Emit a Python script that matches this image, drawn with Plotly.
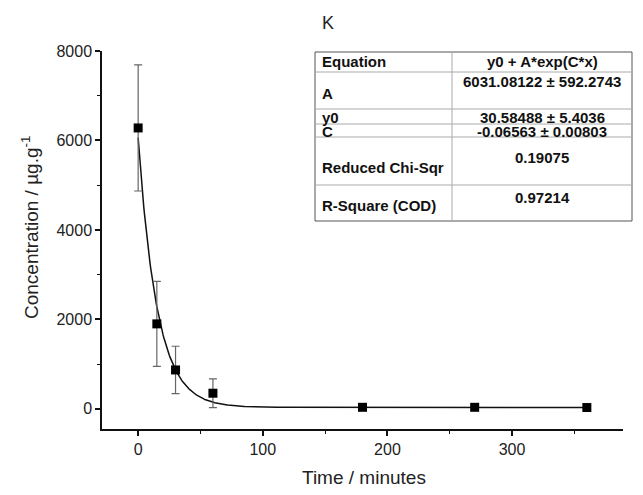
import numpy as np
import plotly.graph_objects as go

# Data
time_min = [0, 15, 30, 60, 180, 270, 360]
conc = [6280, 1900, 870, 350, 35, 35, 30]
conc_err = [1410, 950, 530, 320, 0, 0, 0]

# Fit parameters (from the table)
fit_A = 6031.08122
fit_y0 = 30.58488
fit_C = -0.06563

table_labels = ["Equation", "A", "y0", "C", "Reduced Chi-Sqr", "R-Square (COD)"]
table_values = ["y0 + A*exp(C*x)", "6031.08122 ± 592.2743", "30.58488 ± 5.4036",
                "-0.06563 ± 0.00803", "0.19075", "0.97214"]

fit_x = np.linspace(0, 360, 721)
fit_y = fit_y0 + fit_A * np.exp(fit_C * fit_x)

fig = go.Figure()
fig.add_trace(go.Scatter(x=fit_x, y=fit_y, mode="lines",
                         line=dict(color="#111111", width=1.5), showlegend=False,
                         hoverinfo="skip"))
fig.add_trace(go.Scatter(x=time_min, y=conc, mode="markers",
                         marker=dict(symbol="square", size=9, color="#000000"),
                         error_y=dict(type="data", array=conc_err, visible=True,
                                      color="#666666", thickness=1.2, width=4),
                         showlegend=False))

W, H = 643, 495
L, R, T, B = 102, 20, 51, 66
pw, ph = W - L - R, H - T - B

def px(x):
    return (x - L) / pw

def py(y):
    return (H - B - y) / ph

font_family = "Liberation Sans, Arial, sans-serif"

fig.update_layout(
    width=W, height=H,
    margin=dict(l=L, r=R, t=T, b=B, autoexpand=False),
    paper_bgcolor="white", plot_bgcolor="white",
    font=dict(family=font_family, color="#222222"),
    xaxis=dict(range=[-29, 389], showgrid=False, zeroline=False,
               showline=True, linecolor="#111111", linewidth=1.5,
               ticks="outside", ticklen=5, tickwidth=1.5, tickcolor="#111111",
               tickvals=[0, 100, 200, 300], tickfont=dict(size=16),
               minor=dict(tickvals=[50, 150, 250, 350], ticks="outside",
                          ticklen=3, tickwidth=1.2, tickcolor="#111111")),
    yaxis=dict(range=[-450, 8000], showgrid=False, zeroline=False,
               showline=True, linecolor="#111111", linewidth=1.5,
               ticks="outside", ticklen=5, tickwidth=1.5, tickcolor="#111111",
               tickvals=[0, 2000, 4000, 6000, 8000], tickfont=dict(size=16),
               minor=dict(tickvals=[1000, 3000, 5000, 7000], ticks="outside",
                          ticklen=3, tickwidth=1.2, tickcolor="#111111")),
)

def ann(text, x, y, size, xanchor="center", angle=0, color="#222222"):
    return dict(text=text, x=px(x), y=py(y), xref="paper", yref="paper",
                xanchor=xanchor, yanchor="middle", textangle=angle,
                showarrow=False, font=dict(size=size, color=color))

annotations = [
    ann("K", 328, 23, 18),
    ann("Time / minutes", 364, 478, 19),
    ann("Concentration / µg.g<sup>-1</sup>", 30, 228, 19, angle=-90),
]

# Table geometry (pixels)
tx0, tx1, tdiv = 315, 632, 452
row_lines = [52, 72, 109, 124, 137, 185, 221]
label_y = [62, 93, 117, 131, 167, 205]
value_y = [62, 82, 117, 131, 157, 197]

shapes = []
shapes.append(dict(type="rect", xref="paper", yref="paper",
                   x0=px(tx0), x1=px(tx1), y0=py(row_lines[-1]), y1=py(row_lines[0]),
                   line=dict(color="#555555", width=1), fillcolor="white", layer="above"))
for yl in row_lines[1:-1]:
    shapes.append(dict(type="line", xref="paper", yref="paper",
                       x0=px(tx0), x1=px(tx1), y0=py(yl), y1=py(yl),
                       line=dict(color="#aaaaaa", width=1), layer="above"))
shapes.append(dict(type="line", xref="paper", yref="paper",
                   x0=px(tdiv), x1=px(tdiv), y0=py(row_lines[-1]), y1=py(row_lines[0]),
                   line=dict(color="#aaaaaa", width=1), layer="above"))

for lab, ly in zip(table_labels, label_y):
    annotations.append(ann("<b>%s</b>" % lab, tx0 + 5, ly, 15, xanchor="left", color="#111111"))
for val, vy in zip(table_values, value_y):
    annotations.append(ann("<b>%s</b>" % val, (tdiv + tx1) / 2, vy, 15, color="#111111"))

fig.update_layout(annotations=annotations, shapes=shapes)
fig.write_html("out.html", config={"displayModeBar": False},
               post_script="document.body.style.margin='0';document.body.style.padding='0';")
